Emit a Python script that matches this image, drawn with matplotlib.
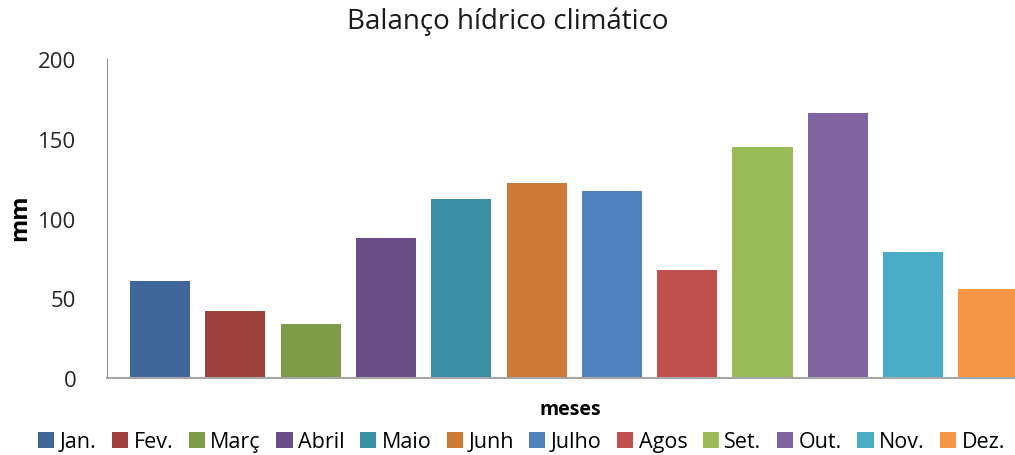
import matplotlib
matplotlib.use('Agg')
from matplotlib import pyplot as plt
from matplotlib.patches import Patch

# data
months = ['Jan.', 'Fev.', 'Març', 'Abril', 'Maio', 'Junh',
          'Julho', 'Agos', 'Set.', 'Out.', 'Nov.', 'Dez.']
values = [61, 42, 34, 88, 112, 122, 117, 68, 145, 166, 79, 56]
colors = ['#41679A', '#9E403D', '#7F9A48', '#6A4F87', '#3A8FA3', '#CC7A36',
          '#4F81BD', '#C0504D', '#9BBB59', '#8064A2', '#4BACC6', '#F79646']
yticks = [0, 50, 100, 150, 200]

plt.rcParams['font.family'] = ['Open Sans', 'DejaVu Sans']

fig = plt.figure(figsize=(10.15, 4.56), dpi=100)
ax = fig.add_axes([107 / 1015, 77 / 456, (1033 - 107) / 1015, 319 / 456])

x = list(range(len(months)))
ax.bar(x, values, width=0.8, color=colors, edgecolor='none')

ax.set_xlim(-0.704, 11.59)
ax.set_ylim(0, 200)
ax.set_yticks(yticks)
ax.set_xticks([])
ax.tick_params(axis='y', length=0, pad=22, labelsize=16, labelcolor='#262626')
for s in ['top', 'right']:
    ax.spines[s].set_visible(False)
ax.spines['left'].set_color('#8C8C8C')
ax.spines['left'].set_linewidth(0.8)
ax.spines['bottom'].set_color('#A6A6A6')
ax.spines['bottom'].set_linewidth(1.5)

fig.text(0.5, 1 - 22 / 456, 'Balanço hídrico climático', ha='center', va='center',
         fontsize=20, color='#1a1a1a')
fig.text(20 / 1015, 1 - 218 / 456, 'mm', rotation=90, ha='center', va='center',
         fontsize=17, fontweight='bold')
fig.text(570 / 1015, 1 - 410 / 456, 'meses', ha='center', va='center',
         fontsize=14, fontweight='bold')

handles = [Patch(facecolor=c, edgecolor='none') for c in colors]
fig.legend(handles, months, loc='center', bbox_to_anchor=(0.514, 1 - 443 / 456),
           ncol=12, frameon=False, fontsize=15.5, handlelength=0.75, handleheight=0.75,
           handletextpad=0.25, columnspacing=0.72, borderaxespad=0, borderpad=0)

fig.savefig('out.png', dpi=100)
